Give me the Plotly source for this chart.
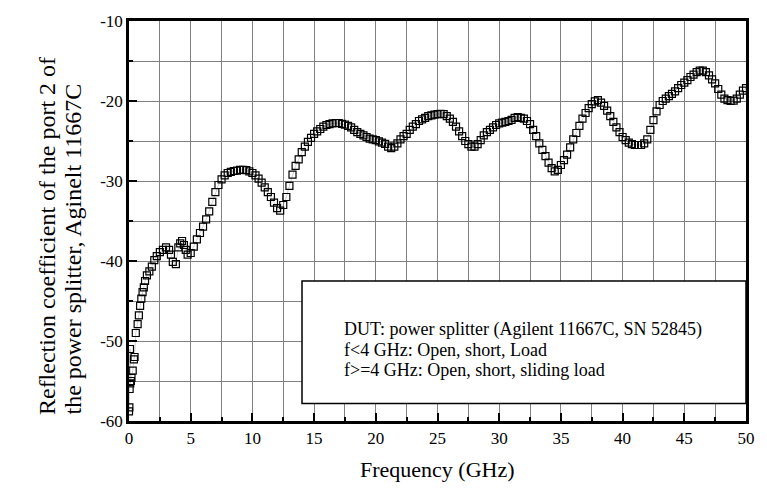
import plotly.graph_objects as go

# ---- data ----
freq_low = [0.0, 0.03, 0.05, 0.08, 0.1, 0.15, 0.2, 0.3, 0.4, 0.45, 0.55, 0.7, 0.8, 0.9,
            1.0, 1.1, 1.2, 1.3, 1.45, 1.65, 1.85, 2.05, 2.25, 2.5, 2.75, 3.0, 3.25, 3.4,
            3.55, 3.8, 4.0, 4.15, 4.3, 4.45, 4.6, 4.75]
refl_low = [-58.8, -58.3, -56.0, -51.0, -55.3, -55.0, -54.6, -53.7, -52.3, -52.0, -49.0,
            -47.9, -46.8, -45.6, -44.7, -43.9, -43.3, -42.5, -41.8, -41.3, -40.7, -39.9,
            -39.4, -38.9, -38.6, -38.3, -38.6, -39.2, -40.1, -40.4, -38.3, -37.8, -37.5,
            -38.0, -38.6, -39.2]

freq_high = [5.0 + 0.25 * i for i in range(181)]
refl_high = [
    -39.0, -38.2, -37.3, -36.5, -35.7, -34.8, -33.8, -32.6, -31.4, -30.5, -29.8, -29.3,
    -29.0, -28.85, -28.75, -28.7, -28.6, -28.6, -28.65, -28.8, -29.0, -29.3, -29.7, -30.2,
    -30.8, -31.4, -32.0, -32.7, -33.4, -33.7, -33.0, -32.0, -30.6, -29.2, -28.1, -27.3,
    -26.4, -25.7, -25.1, -24.6, -24.1, -23.8, -23.5, -23.2, -23.0, -22.9, -22.8, -22.75,
    -22.75, -22.85, -22.95, -23.1, -23.3, -23.6, -23.9, -24.1, -24.3, -24.5, -24.7, -24.8,
    -24.9, -25.05, -25.2, -25.35, -25.7, -25.9, -25.7, -25.3, -24.8, -24.4, -24.1, -23.6,
    -23.2, -22.9, -22.5, -22.3, -22.1, -21.9, -21.8, -21.7, -21.65, -21.6, -21.65, -21.9,
    -22.2, -22.6, -23.2, -23.8, -24.4, -25.0, -25.4, -25.7, -25.7, -25.4, -24.9, -24.3,
    -23.9, -23.6, -23.3, -23.0, -22.8, -22.7, -22.6, -22.5, -22.35, -22.1, -22.0, -22.1,
    -22.2, -22.5, -22.9, -23.6, -24.4, -25.3, -26.1, -26.9, -27.7, -28.4, -28.8, -28.6,
    -28.0, -27.4, -26.7, -25.8, -24.8, -24.0, -23.1, -22.2, -21.5, -20.9, -20.4, -20.05,
    -19.9, -20.2, -20.6, -21.2, -21.9, -22.6, -23.3, -23.9, -24.5, -24.9, -25.2, -25.4,
    -25.5, -25.5, -25.5, -25.3, -24.8, -23.6, -22.4, -21.3, -20.5, -20.0, -19.7, -19.4,
    -19.1, -18.8, -18.4, -18.0, -17.7, -17.4, -17.0, -16.7, -16.4, -16.2, -16.2, -16.4,
    -16.8, -17.3, -17.8, -18.5, -19.2, -19.7, -19.9, -20.0, -19.95, -19.7, -19.2, -18.7,
    -18.4]

freq = freq_low + freq_high
refl = refl_low + refl_high

x_ticks = [0, 5, 10, 15, 20, 25, 30, 35, 40, 45, 50]
x_tick_labels = ["0", "5", "10", "15", "20", "25", "30", "35", "40", "45", "50"]
y_ticks = [-60, -50, -40, -30, -20, -10]
y_tick_labels = ["-60", "-50", "-40", "-30", "-20", "-10"]

x_title = "Frequency (GHz)"
y_title_lines = ["Reflection coefficient of the port 2 of",
                 "the power splitter, Aginelt 11667C"]
note_lines = ["DUT: power splitter (Agilent 11667C, SN 52845)",
              "f<4 GHz: Open, short, Load",
              "f>=4 GHz: Open, short, sliding load"]

FONT = "Liberation Serif, Times New Roman, serif"

W, H = 767, 490
ml, mr, mt, mb = 129, 21, 18, 69
pw = W - ml - mr
ph = H - mt - mb


def px_x(p):
    return (p - ml) / pw


def px_y(p):
    return (H - mb - p) / ph


fig = go.Figure()
fig.add_trace(go.Scatter(
    x=freq, y=refl, mode="lines+markers",
    line=dict(color="rgba(120,120,120,0.6)", width=0.6),
    marker=dict(symbol="square-open", size=7, color="black", line=dict(width=1.2, color="black")),
    showlegend=False, hoverinfo="skip"))

# note box (in data coords)
fig.add_shape(type="rect", xref="x", yref="y", x0=14.02, x1=50, y0=-57.8, y1=-42.5,
              fillcolor="white", line=dict(color="black", width=1.5), layer="above")
for txt, yy in zip(note_lines, [-48.6, -51.1, -53.6]):
    fig.add_annotation(x=17.3, y=yy, xref="x", yref="y", text=txt, showarrow=False,
                       xanchor="left", yanchor="middle",
                       font=dict(family=FONT, size=18, color="black"))

# axis titles
fig.add_annotation(x=0.5, y=px_y(470), xref="paper", yref="paper",
                   text=x_title, showarrow=False, xanchor="center", yanchor="middle",
                   font=dict(family=FONT, size=22, color="black"))
for txt, xpx in zip(y_title_lines, [47, 73]):
    fig.add_annotation(x=px_x(xpx), y=px_y(417), xref="paper", yref="paper",
                       text=txt, showarrow=False, textangle=-90,
                       xanchor="center", yanchor="bottom",
                       font=dict(family=FONT, size=24, color="black"))

axis_common = dict(showline=True, linecolor="black", linewidth=2.5, mirror=True,
                   showgrid=True, gridcolor="#808080", gridwidth=1,
                   ticks="inside", ticklen=8, tickwidth=1.5, tickcolor="black",
                   zeroline=False,
                   tickfont=dict(family=FONT, size=17, color="black"))

fig.update_xaxes(range=[0, 50], tickvals=x_ticks, ticktext=x_tick_labels,
                 minor=dict(dtick=2.5, tick0=0, showgrid=True, gridcolor="#808080",
                            gridwidth=1, ticks="inside", ticklen=4, tickcolor="black"),
                 **axis_common)
fig.update_yaxes(range=[-60, -10], tickvals=y_ticks, ticktext=y_tick_labels,
                 minor=dict(dtick=5, tick0=-60, showgrid=True, gridcolor="#808080",
                            gridwidth=1, ticks="inside", ticklen=4, tickcolor="black"),
                 **axis_common)

fig.update_layout(width=W, height=H, margin=dict(l=ml, r=mr, t=mt, b=mb),
                  plot_bgcolor="white", paper_bgcolor="white",
                  font=dict(family=FONT, color="black"))

fig.write_html("out.html")
